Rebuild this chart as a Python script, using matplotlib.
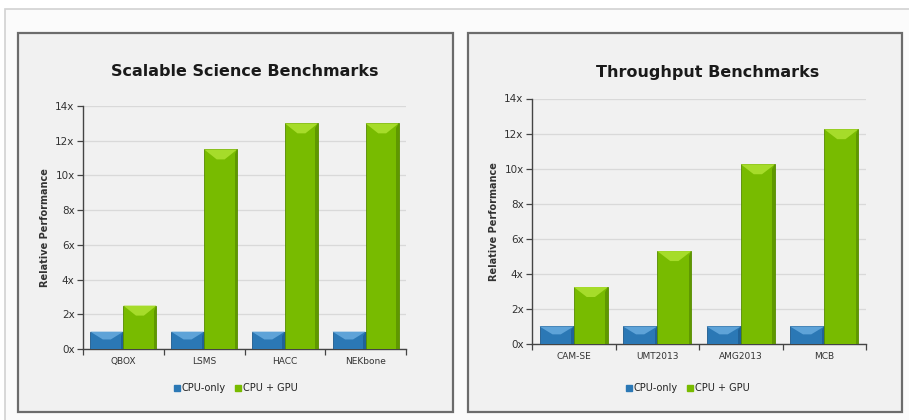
import numpy as np
import matplotlib.pyplot as plt
from matplotlib.patches import Rectangle, Polygon
from matplotlib.lines import Line2D

# benchmark results, speedup relative to CPU-only
sci_names = ['QBOX', 'LSMS', 'HACC', 'NEKbone']
sci_cpu = [1, 1, 1, 1]
sci_gpu = [2.5, 11.5, 13, 13]

thr_names = ['CAM-SE', 'UMT2013', 'AMG2013', 'MCB']
thr_cpu = [1, 1, 1, 1]
thr_gpu = [3.25, 5.3, 10.25, 12.25]

yticks = [0, 2, 4, 6, 8, 10, 12, 14]

BLUE = '#2b78b5'
BLUE_TOP = '#5ea3d8'
BLUE_DARK = '#1d5a8c'
GREEN = '#78bb00'
GREEN_TOP = '#a6dc2a'
GREEN_DARK = '#558a00'

W, H = 909, 420
fig = plt.figure(figsize=(W / 100, H / 100), dpi=100)
fig.patch.set_facecolor('white')

# outer frame
fig.patches.append(Rectangle((5 / W, -0.1), 1.1, 1 - 9 / H + 0.1, transform=fig.transFigure,
                             facecolor='#fbfbfb', edgecolor='#d2d2d2', lw=1.2, zorder=-2))


def panel(x0, y0, x1, y1):
    # gray card behind each chart (pixel coords, y from top)
    fig.patches.append(Rectangle((x0 / W, 1 - y1 / H), (x1 - x0) / W, (y1 - y0) / H,
                                 transform=fig.transFigure, facecolor='#f1f1f1',
                                 edgecolor='#6c6c6c', lw=1.6, zorder=-1))


def bevel_bar(ax, x, w, v, base, top, dark, px_x, px_y):
    x0, x1 = x - w / 2, x + w / 2
    ax.bar(x, v, w, color=base, edgecolor=dark, linewidth=0.6, zorder=3)
    h = min(10 / px_y, 0.45 * v)
    d = 0.38 * w
    ax.add_patch(Polygon([(x0, v), (x1, v), (x1 - d, v - h), (x0 + d, v - h)],
                         closed=True, facecolor=top, edgecolor='none', zorder=4))
    s = 2.5 / px_x
    ax.add_patch(Polygon([(x1, v), (x1, 0), (x1 - s, 0), (x1 - s, v - h * 0.5)],
                         closed=True, facecolor=dark, edgecolor='none', alpha=0.7, zorder=4))


def chart(rect, title, names, cpu, gpu, title_xy, legend_xy):
    ax = fig.add_axes(rect)
    ax.set_facecolor('none')
    ax.set_ylim(0, 14)
    ax.set_xlim(-0.5, len(names) - 0.5)
    fig.canvas.draw()
    bb = ax.get_window_extent()
    px_x = bb.width / len(names)
    px_y = bb.height / 14

    w = 0.41
    x = np.arange(len(names))
    for i in range(len(names)):
        bevel_bar(ax, x[i] - w / 2, w, cpu[i], BLUE, BLUE_TOP, BLUE_DARK, px_x, px_y)
        bevel_bar(ax, x[i] + w / 2, w, gpu[i], GREEN, GREEN_TOP, GREEN_DARK, px_x, px_y)

    ax.set_yticks(yticks)
    ax.set_yticklabels([f'{t}x' for t in yticks], fontsize=7.5, color='#333333')
    ax.yaxis.grid(True, color='#d9d9d9', lw=0.9)
    ax.set_axisbelow(True)
    ax.set_xticks(np.arange(len(names) + 1) - 0.5)
    ax.set_xticklabels([])
    ax.set_xticks(x, minor=True)
    ax.set_xticklabels(names, minor=True, fontsize=6.5, color='#333333')
    ax.tick_params(axis='x', which='minor', length=0, pad=6)
    ax.tick_params(axis='x', which='major', length=4, width=0.9, color='#444444')
    ax.tick_params(axis='y', length=4, width=0.9, color='#444444', pad=2)
    for sp in ['top', 'right']:
        ax.spines[sp].set_visible(False)
    for sp in ['left', 'bottom']:
        ax.spines[sp].set_color('#444444')
        ax.spines[sp].set_linewidth(1.0)
    ax.set_ylabel('Relative Performance', fontsize=7, fontweight='bold', color='#333333',
                  labelpad=4)

    fig.text(title_xy[0] / W, 1 - title_xy[1] / H, title, ha='center', va='center',
             fontsize=11.5, fontweight='bold', color='#1a1a1a')
    handles = [Line2D([], [], marker='s', ls='none', color=BLUE, markersize=5),
               Line2D([], [], marker='s', ls='none', color=GREEN, markersize=5)]
    fig.legend(handles, ['CPU-only', 'CPU + GPU'], loc='center',
               bbox_to_anchor=(legend_xy[0] / W, 1 - legend_xy[1] / H), ncol=2,
               frameon=False, fontsize=7, handlelength=0.6, handletextpad=0.2,
               columnspacing=1.0, labelcolor='#222222')
    return ax


panel(18, 33, 453, 412)
panel(468, 33, 902, 412)

chart([83 / W, 1 - 349 / H, 323 / W, 243 / H], 'Scalable Science Benchmarks',
      sci_names, sci_cpu, sci_gpu, (245, 71), (236, 388))
chart([532 / W, 1 - 344 / H, 334 / W, 245.5 / H], 'Throughput Benchmarks',
      thr_names, thr_cpu, thr_gpu, (708, 72), (688, 388))

fig.savefig('out.png', dpi=100)
